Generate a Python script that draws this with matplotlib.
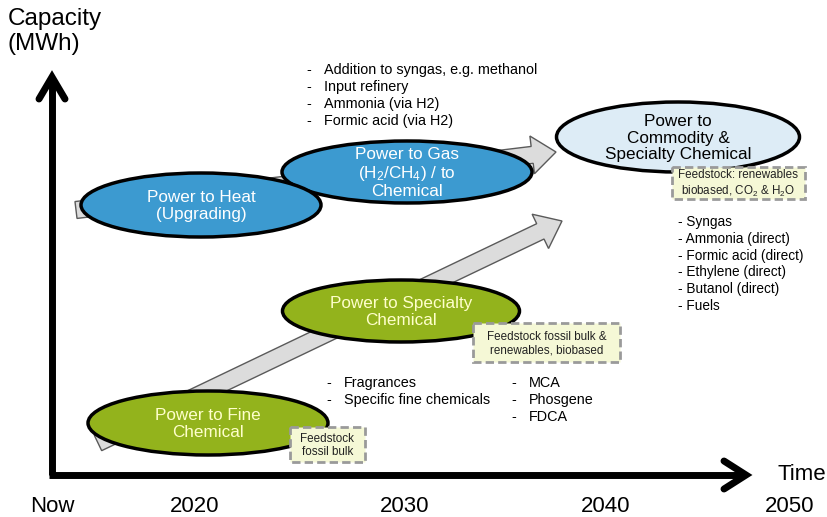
import matplotlib
matplotlib.use('Agg')
from matplotlib import pyplot as plt
from matplotlib.patches import Ellipse, FancyArrow, Rectangle

plt.rcParams['font.family'] = ['Liberation Sans', 'DejaVu Sans']
plt.rcParams['mathtext.fontset'] = 'custom'
plt.rcParams['mathtext.rm'] = 'Liberation Sans'

# ---- content ----
y_title = 'Capacity\n(MWh)'
x_title = 'Time'
time_labels = ['Now', '2020', '2030', '2040', '2050']
time_pos = [52, 195, 405, 606, 790]

stages = ['Power to Heat\n(Upgrading)',
          'Power to Gas\n(H$\\mathregular{_2}$/CH$\\mathregular{_4}$) / to\nChemical',
          'Power to\nCommodity &\nSpecialty Chemical',
          'Power to Specialty\nChemical',
          'Power to Fine\nChemical']
# centre x, centre y, width, height
stage_box = [(201, 205, 240, 64),
             (407, 172, 250, 62),
             (678, 137, 243, 70),
             (401, 311, 237, 62),
             (208, 423, 240, 64)]
stage_fill = ['#3C9AD0', '#3C9AD0', '#DDECF6', '#93B31C', '#93B31C']
stage_text = ['white', 'white', 'black', '#FFFFCC', '#FFFFCC']

feedstock = ['Feedstock\nfossil bulk',
             'Feedstock fossil bulk &\nrenewables, biobased',
             'Feedstock: renewables\nbiobased, CO$\\mathregular{_2}$ & H$\\mathregular{_2}$O']
# x0, y0, x1, y1
feed_box = [(290, 427, 365, 462),
            (473, 323, 620, 362),
            (672, 167, 805, 199)]

gas_uses = ['Addition to syngas, e.g. methanol', 'Input refinery',
            'Ammonia (via H2)', 'Formic acid (via H2)']
fine_uses = ['Fragrances', 'Specific fine chemicals']
specialty_uses = ['MCA', 'Phosgene', 'FDCA']
commodity_uses = ['Syngas', 'Ammonia (direct)', 'Formic acid (direct)',
                  'Ethylene (direct)', 'Butanol (direct)', 'Fuels']

# gray trend arrows: tail -> tip
trends = [((76, 210), (556, 152)),
          ((98, 443), (562, 221))]

fig = plt.figure(figsize=(8.28, 5.17), dpi=100)
ax = fig.add_axes([0, 0, 1, 1])
ax.set_xlim(0, 828)
ax.set_ylim(517, 0)
ax.axis('off')

# trend arrows
for (x0, y0), (x1, y1) in trends:
    ax.add_patch(FancyArrow(x0, y0, x1 - x0, y1 - y0, width=17, head_width=38,
                            head_length=24, length_includes_head=True,
                            fc='#DCDCDC', ec='#5A5A5A', lw=1.0, zorder=1))

# stage ellipses (heat drawn above gas)
order = [1, 0, 2, 3, 4]
for i in order:
    cx, cy, w, h = stage_box[i]
    ax.add_patch(Ellipse((cx, cy), w, h, fc=stage_fill[i], ec='black', lw=2.5,
                         zorder=2 + order.index(i)))
    ax.text(cx, cy + 1, stages[i], ha='center', va='center', fontsize=12.3,
            color=stage_text[i], linespacing=1.12, zorder=10)

# feedstock boxes
for txt, (x0, y0, x1, y1) in zip(feedstock, feed_box):
    ax.add_patch(Rectangle((x0, y0), x1 - x0, y1 - y0, fc='#F5F8D6', ec='#9A9A9A',
                           lw=2.0, ls=(0, (3, 1.5)), zorder=11))
    ax.text((x0 + x1) / 2, (y0 + y1) / 2 + 1, txt, ha='center', va='center',
            fontsize=8.4, color='#222222', linespacing=1.2, zorder=12)


def dash_list(items, x_dash, x_text, y0, step, size):
    for k, item in enumerate(items):
        y = y0 + k * step
        ax.text(x_dash, y, '-', ha='left', va='center', fontsize=size, zorder=12)
        ax.text(x_text, y, item, ha='left', va='center', fontsize=size, zorder=12)


dash_list(gas_uses, 306, 324, 70, 17, 10.4)
dash_list(fine_uses, 326, 344, 383, 17, 10.4)
dash_list(specialty_uses, 511, 529, 383, 17, 10.4)
for k, item in enumerate(commodity_uses):
    ax.text(678, 222 + k * 16.8, '- ' + item, ha='left', va='center',
            fontsize=9.8, zorder=12)

# axes arrows
ax.plot([52, 52], [475, 80], color='black', lw=5, solid_capstyle='butt', zorder=13)
ax.plot([39, 52, 65], [99, 77, 99], color='black', lw=5, solid_capstyle='round',
        solid_joinstyle='miter', zorder=13)
ax.plot([49, 742], [475, 475], color='black', lw=5, solid_capstyle='butt', zorder=13)
ax.plot([724, 746, 724], [461, 475, 489], color='black', lw=5,
        solid_capstyle='round', solid_joinstyle='miter', zorder=13)

ax.text(8, 8, y_title, ha='left', va='top', fontsize=17.5, linespacing=1.15)
ax.text(778, 474, x_title, ha='left', va='center', fontsize=16)
for lab, x in zip(time_labels, time_pos):
    ax.text(x, 507, lab, ha='center', va='center', fontsize=16)

fig.savefig('out.png', dpi=100, facecolor='white')
